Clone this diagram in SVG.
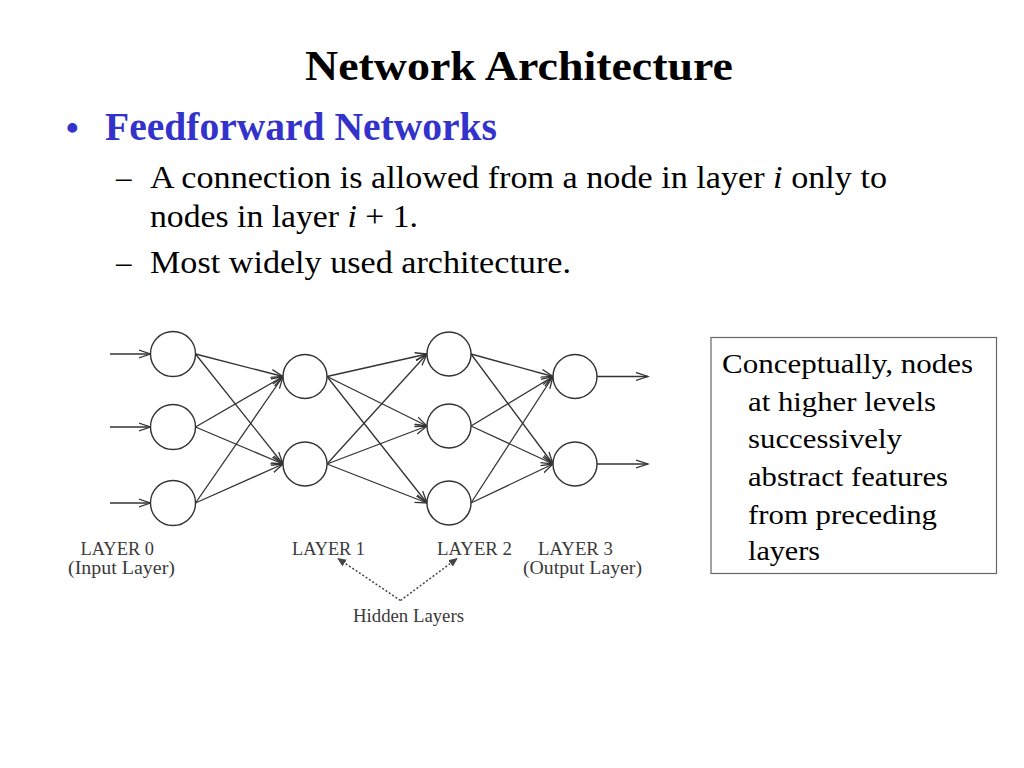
<svg xmlns="http://www.w3.org/2000/svg" width="1024" height="768" viewBox="0 0 1024 768">
<style>
  .t { font-family: "Liberation Serif", "Times New Roman", serif; fill: #000; }
  .title { font-size: 42px; font-weight: bold; }
  .head { font-size: 40px; font-weight: bold; fill: #3333CC; }
  .sub { font-size: 31px; }
  .box { font-size: 27px; }
  .lbl { font-family: "Liberation Serif", "DejaVu Serif", serif; font-size: 18.5px; fill: #3a3a3a; }
  .node { fill: #fff; stroke: #333; stroke-width: 1.4; }
  .edge { stroke: #333; stroke-width: 1.3; fill: none; marker-end: url(#ah); }
  .dot { stroke: #444; stroke-width: 1.5; stroke-dasharray: 2 2; fill: none; marker-end: url(#dh); }
</style>
<defs>
  <marker id="ah" markerWidth="14" markerHeight="10" refX="12" refY="5" orient="auto" markerUnits="userSpaceOnUse">
    <path d="M0,1 L12,5 L0,9" fill="none" stroke="#333" stroke-width="1.3"/>
  </marker>
  <marker id="dh" markerWidth="10" markerHeight="8" refX="8" refY="4" orient="auto" markerUnits="userSpaceOnUse">
    <path d="M0,0 L9,4 L0,8 z" fill="#444"/>
  </marker>
</defs>
<rect width="1024" height="768" fill="#fff"/>

<g id="title">
  <text class="t title" x="305" y="80" textLength="428" lengthAdjust="spacingAndGlyphs">Network Architecture</text>
</g>
<g id="bullets">
  <text class="t head" x="66" y="140" style="font-size:36px">•</text>
  <text class="t head" x="105" y="140" textLength="392" lengthAdjust="spacingAndGlyphs">Feedforward Networks</text>
  <text class="t sub" x="116" y="188">–</text>
  <text class="t sub" x="150" y="188" textLength="737" lengthAdjust="spacingAndGlyphs">A connection is allowed from a node in layer <tspan font-style="italic">i</tspan> only to</text>
  <text class="t sub" x="150" y="227" textLength="268" lengthAdjust="spacingAndGlyphs">nodes in layer <tspan font-style="italic">i</tspan> + 1.</text>
  <text class="t sub" x="116" y="273">–</text>
  <text class="t sub" x="150" y="273" textLength="421" lengthAdjust="spacingAndGlyphs">Most widely used architecture.</text>
</g>

<g id="connectors">
  <line class="edge" x1="110" y1="354" x2="150.5" y2="354"/>
  <line class="edge" x1="110" y1="427" x2="150.5" y2="427"/>
  <line class="edge" x1="110" y1="503" x2="150.5" y2="503"/>
  <line class="edge" x1="195.5" y1="354" x2="283" y2="376.5"/>
  <line class="edge" x1="195.5" y1="354" x2="283" y2="464"/>
  <line class="edge" x1="195.5" y1="427" x2="283" y2="376.5"/>
  <line class="edge" x1="195.5" y1="427" x2="283" y2="464"/>
  <line class="edge" x1="195.5" y1="503" x2="283" y2="376.5"/>
  <line class="edge" x1="195.5" y1="503" x2="283" y2="464"/>
  <line class="edge" x1="327" y1="376.5" x2="427" y2="354"/>
  <line class="edge" x1="327" y1="376.5" x2="427" y2="426"/>
  <line class="edge" x1="327" y1="376.5" x2="427" y2="503"/>
  <line class="edge" x1="327" y1="464" x2="427" y2="354"/>
  <line class="edge" x1="327" y1="464" x2="427" y2="426"/>
  <line class="edge" x1="327" y1="464" x2="427" y2="503"/>
  <line class="edge" x1="471" y1="354" x2="553" y2="376.5"/>
  <line class="edge" x1="471" y1="354" x2="553" y2="464"/>
  <line class="edge" x1="471" y1="426" x2="553" y2="376.5"/>
  <line class="edge" x1="471" y1="426" x2="553" y2="464"/>
  <line class="edge" x1="471" y1="503" x2="553" y2="376.5"/>
  <line class="edge" x1="471" y1="503" x2="553" y2="464"/>
  <line class="edge" x1="597" y1="376.5" x2="648" y2="376.5"/>
  <line class="edge" x1="597" y1="464" x2="648" y2="464"/>
  <line class="dot" x1="400.5" y1="600.5" x2="338" y2="558.5"/>
  <line class="dot" x1="400.5" y1="600.5" x2="457" y2="558.5"/>
</g>

<g id="layer0">
  <circle id="n00" class="node" cx="173" cy="354" r="22.5"/>
  <circle id="n01" class="node" cx="173" cy="427" r="22.5"/>
  <circle id="n02" class="node" cx="173" cy="503" r="22.5"/>
</g>
<g id="layer1">
  <circle id="n10" class="node" cx="305" cy="376.5" r="22"/>
  <circle id="n11" class="node" cx="305" cy="464" r="22"/>
</g>
<g id="layer2">
  <circle id="n20" class="node" cx="449" cy="354" r="22"/>
  <circle id="n21" class="node" cx="449" cy="426" r="22"/>
  <circle id="n22" class="node" cx="449" cy="503" r="22"/>
</g>
<g id="layer3">
  <circle id="n30" class="node" cx="575" cy="376.5" r="22"/>
  <circle id="n31" class="node" cx="575" cy="464" r="22"/>
</g>

<g id="labels">
  <text class="lbl" x="80.5" y="555" textLength="73.5" lengthAdjust="spacingAndGlyphs">LAYER 0</text>
  <text class="lbl" x="68" y="574" textLength="107" lengthAdjust="spacingAndGlyphs">(Input Layer)</text>
  <text class="lbl" x="292" y="555" textLength="73" lengthAdjust="spacingAndGlyphs">LAYER 1</text>
  <text class="lbl" x="437" y="555" textLength="75" lengthAdjust="spacingAndGlyphs">LAYER 2</text>
  <text class="lbl" x="538" y="555" textLength="75" lengthAdjust="spacingAndGlyphs">LAYER 3</text>
  <text class="lbl" x="523" y="574" textLength="119" lengthAdjust="spacingAndGlyphs">(Output Layer)</text>
  <text class="lbl" x="353" y="622" textLength="111" lengthAdjust="spacingAndGlyphs">Hidden Layers</text>
</g>

<g id="note">
  <rect x="711" y="337.5" width="285.5" height="236" fill="#fff" stroke="#666" stroke-width="1.2"/>
  <text class="t box" x="722" y="373" textLength="251" lengthAdjust="spacingAndGlyphs">Conceptually, nodes</text>
  <text class="t box" x="748" y="411" textLength="188" lengthAdjust="spacingAndGlyphs">at higher levels</text>
  <text class="t box" x="748" y="448" textLength="154" lengthAdjust="spacingAndGlyphs">successively</text>
  <text class="t box" x="748" y="486" textLength="200" lengthAdjust="spacingAndGlyphs">abstract features</text>
  <text class="t box" x="748" y="524" textLength="189" lengthAdjust="spacingAndGlyphs">from preceding</text>
  <text class="t box" x="748" y="560" textLength="72" lengthAdjust="spacingAndGlyphs">layers</text>
</g>
</svg>
